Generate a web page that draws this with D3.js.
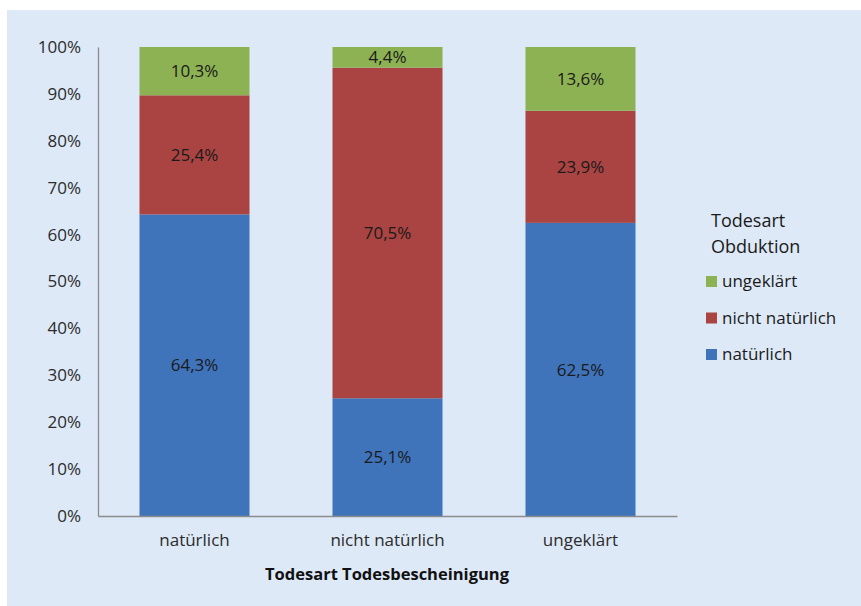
<!DOCTYPE html>
<html><head><meta charset="utf-8">
<script src="https://cdn.jsdelivr.net/npm/d3@7"></script>
<style>
html,body{margin:0;padding:0;background:#fff;}
svg{display:block;}
text{font-family:"Open Sans","Noto Sans",sans-serif;}
</style></head>
<body>
<svg id="chart" width="861" height="606"></svg>
<script>
const categories = ["natürlich", "nicht natürlich", "ungeklärt"];
const seriesNames = ["natürlich", "nicht natürlich", "ungeklärt"];
const natuerlich = [64.3, 25.1, 62.5];
const nichtNatuerlich = [25.4, 70.5, 23.9];
const ungeklaert = [10.3, 4.4, 13.6];
const yTicks = [0, 10, 20, 30, 40, 50, 60, 70, 80, 90, 100];
const legendTitle = ["Todesart", "Obduktion"];
const xTitle = "Todesart Todesbescheinigung";
const colors = ["#3F73BA", "#A94442", "#8DB253"];

const svg = d3.select("#chart");
svg.append("rect").attr("x", 7).attr("y", 10).attr("width", 854).attr("height", 596).attr("fill", "#DDE9F7");

const x = d3.scaleBand().domain(categories).range([98, 677]).paddingInner(0.43).paddingOuter(0.215);
const y = d3.scaleLinear().domain([0, 100]).range([516, 47]);

const rows = categories.map((c, i) => ({cat: c, "natürlich": natuerlich[i], "nicht natürlich": nichtNatuerlich[i], "ungeklärt": ungeklaert[i]}));
const stack = d3.stack().keys(seriesNames)(rows);

const g = svg.append("g");
stack.forEach((layer, li) => {
  layer.forEach(d => {
    g.append("rect")
      .attr("x", x(d.data.cat))
      .attr("width", x.bandwidth())
      .attr("y", y(d[1]))
      .attr("height", y(d[0]) - y(d[1]))
      .attr("fill", colors[li]);
  });
});
stack.forEach((layer, li) => {
  layer.forEach(d => {
    const v = d[1] - d[0];
    g.append("text")
      .attr("x", x(d.data.cat) + x.bandwidth() / 2)
      .attr("y", y((d[0] + d[1]) / 2))
      .attr("dy", "0.36em")
      .attr("text-anchor", "middle")
      .attr("font-size", 17)
      .attr("fill", "#1a1a1a")
      .text(v.toFixed(1).replace(".", ",") + "%");
  });
});

// y axis
const yAxis = d3.axisLeft(y).tickValues(yTicks).tickSize(0).tickPadding(17).tickFormat(d => d + "%");
const ya = svg.append("g").attr("transform", "translate(98,0)").call(yAxis);
ya.select(".domain").attr("stroke", "#8c8c8c").attr("stroke-width", 1.3);
ya.selectAll("text").attr("font-size", 17).attr("fill", "#2b2b2b").attr("font-family", '"Open Sans",sans-serif');

// x axis
const xAxis = d3.axisBottom(x).tickSize(0).tickPadding(18);
const xa = svg.append("g").attr("transform", "translate(0,516)").call(xAxis);
xa.select(".domain").attr("stroke", "#8c8c8c").attr("stroke-width", 1.3);
xa.selectAll("text").attr("font-size", 17).attr("fill", "#2b2b2b").attr("font-family", '"Open Sans",sans-serif');

svg.append("text").attr("x", 387).attr("y", 580).attr("text-anchor", "middle")
  .attr("font-size", 16.5).attr("font-weight", "bold").attr("fill", "#111").text(xTitle);

// legend
const lg = svg.append("g");
legendTitle.forEach((t, i) => {
  lg.append("text").attr("x", 711).attr("y", 227 + i * 26).attr("font-size", 18).attr("fill", "#1a1a1a").text(t);
});
const legendOrder = [2, 1, 0];
legendOrder.forEach((si, i) => {
  const cy = 281 + i * 36.5;
  lg.append("rect").attr("x", 706).attr("y", cy - 5).attr("width", 11).attr("height", 11).attr("fill", colors[si]);
  lg.append("text").attr("x", 722).attr("y", cy).attr("dy", "0.36em").attr("font-size", 17).attr("fill", "#1a1a1a").text(seriesNames[si]);
});
</script>
</body></html>
